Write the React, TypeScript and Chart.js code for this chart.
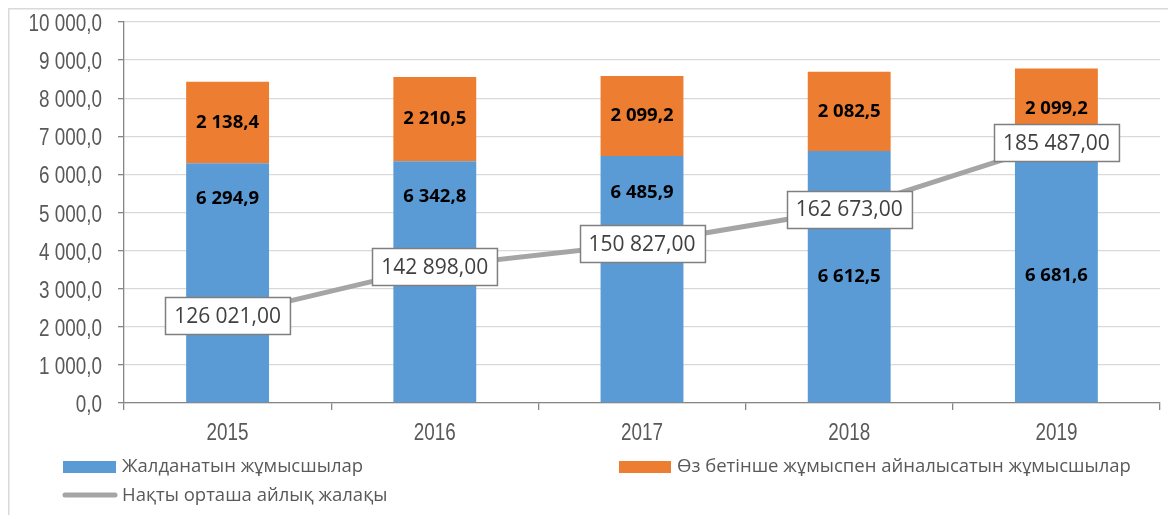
import React, { useEffect, useRef } from "react";
import { Chart, registerables } from "chart.js";

Chart.register(...registerables);

const years = ["2015", "2016", "2017", "2018", "2019"];
const hired = [6294.9, 6342.8, 6485.9, 6612.5, 6681.6];
const selfEmployed = [2138.4, 2210.5, 2099.2, 2082.5, 2099.2];
const wage = [126021, 142898, 150827, 162673, 185487];
const seriesNames = [
  "Жалданатын жұмысшылар",
  "Өз бетінше жұмыспен айналысатын жұмысшылар",
  "Нақты орташа айлық жалақы",
];
// where the hired-workers label sits inside its bar (share of bar height from the base)
const hiredLabelShare = [0.85, 0.855, 0.85, 0.5, 0.5];

const BLUE = "#5B9BD5";
const ORANGE = "#ED7D31";
const GRAY = "#A5A5A5";
const TEXT = "#595959";
const AXISFONT = "'Liberation Sans', Arial, sans-serif";
const SANS = "'Open Sans', 'Noto Sans', sans-serif";
const NARROW_SCALE = 0.82;

const W = 1168;
const H = 507;

function fmt(v: number, d: number): string {
  const s = Math.abs(v).toFixed(d);
  const [ip, dp] = s.split(".");
  const grouped = ip.replace(/\B(?=(\d{3})+(?!\d))/g, " ");
  return (v < 0 ? "-" : "") + grouped + (dp ? "," + dp : "");
}

const framePlugin = {
  id: "frame",
  beforeDraw(chart: any) {
    const ctx = chart.ctx;
    ctx.save();
    ctx.fillStyle = "#ffffff";
    ctx.fillRect(0, 0, chart.width, chart.height);
    ctx.strokeStyle = "#d9d9d9";
    ctx.lineWidth = 1.5;
    ctx.beginPath();
    ctx.moveTo(0.75, chart.height);
    ctx.lineTo(0.75, 0.75);
    ctx.lineTo(chart.width, 0.75);
    ctx.stroke();
    ctx.restore();
  },
};

// narrow axis tick labels (Arial Narrow look)
const axisLabelsPlugin = {
  id: "narrowTicks",
  afterDraw(chart: any) {
    const ctx = chart.ctx;
    ctx.save();
    ctx.fillStyle = TEXT;
    ctx.font = `23px ${AXISFONT}`;
    ctx.textBaseline = "alphabetic";
    const ys = chart.scales.y;
    ctx.textAlign = "right";
    ys.ticks.forEach((t: any, i: number) => {
      const py = ys.getPixelForTick(i);
      ctx.save();
      ctx.translate(ys.right - 22, py + 9);
      ctx.scale(NARROW_SCALE, 1);
      ctx.fillText(fmt(Number(t.value), 1), 0, 0);
      ctx.restore();
    });
    const xs = chart.scales.x;
    ctx.textAlign = "center";
    xs.ticks.forEach((t: any, i: number) => {
      const px = xs.getPixelForTick(i);
      ctx.save();
      ctx.translate(px, xs.top + 37);
      ctx.scale(NARROW_SCALE, 1);
      ctx.fillText(String(years[i]), 0, 0);
      ctx.restore();
    });
    ctx.restore();
  },
};

const labelsPlugin = {
  id: "valueLabels",
  afterDatasetsDraw(chart: any) {
    const ctx = chart.ctx;
    ctx.save();
    ctx.textAlign = "center";
    ctx.textBaseline = "middle";
    ctx.fillStyle = "#000000";
    ctx.font = `bold 18.5px ${SANS}`;
    const m0 = chart.getDatasetMeta(0);
    m0.data.forEach((el: any, i: number) => {
      const y = el.base - (el.base - el.y) * hiredLabelShare[i];
      ctx.fillText(fmt(hired[i], 1), el.x, y);
    });
    const m1 = chart.getDatasetMeta(1);
    m1.data.forEach((el: any, i: number) => {
      ctx.fillText(fmt(selfEmployed[i], 1), el.x, (el.y + el.base) / 2);
    });
    // line labels
    const m2 = chart.getDatasetMeta(2);
    ctx.font = `21px ${SANS}`;
    m2.data.forEach((pt: any, i: number) => {
      const txt = fmt(wage[i], 2);
      const tw = ctx.measureText(txt).width;
      const bw = tw + 18;
      const bh = 37;
      const x0 = Math.round(pt.x - bw / 2) + 0.5;
      const y0 = Math.round(pt.y - bh / 2) + 0.5;
      ctx.fillStyle = "#ffffff";
      ctx.fillRect(x0, y0, bw, bh);
      ctx.strokeStyle = "#7f7f7f";
      ctx.lineWidth = 1.5;
      ctx.strokeRect(x0, y0, bw, bh);
      ctx.fillStyle = "#404040";
      ctx.fillText(txt, pt.x, pt.y + 1);
    });
    ctx.restore();
  },
};

const legendPlugin = {
  id: "customLegend",
  afterDraw(chart: any) {
    const ctx = chart.ctx;
    ctx.save();
    ctx.font = `18.5px ${SANS}`;
    ctx.textBaseline = "middle";
    ctx.textAlign = "left";
    // row 1
    ctx.fillStyle = BLUE;
    ctx.fillRect(55, 453, 53, 12);
    ctx.fillStyle = TEXT;
    ctx.fillText(seriesNames[0], 114, 459);
    ctx.fillStyle = ORANGE;
    ctx.fillRect(611, 453, 52, 12);
    ctx.fillStyle = TEXT;
    ctx.fillText(seriesNames[1], 669, 459);
    // row 2
    ctx.strokeStyle = GRAY;
    ctx.lineWidth = 5;
    ctx.lineCap = "round";
    ctx.beginPath();
    ctx.moveTo(57, 487);
    ctx.lineTo(107, 487);
    ctx.stroke();
    ctx.fillStyle = TEXT;
    ctx.fillText(seriesNames[2], 114, 488);
    ctx.restore();
  },
};

export default function App() {
  const ref = useRef<HTMLCanvasElement | null>(null);
  useEffect(() => {
    if (!ref.current) return;
    const chart = new Chart(ref.current, {
      type: "bar",
      data: {
        labels: years,
        datasets: [
          {
            type: "bar",
            label: seriesNames[0],
            data: hired,
            backgroundColor: BLUE,
            stack: "s",
            yAxisID: "y",
            order: 2,
            categoryPercentage: 1,
            barPercentage: 0.4,
          },
          {
            type: "bar",
            label: seriesNames[1],
            data: selfEmployed,
            backgroundColor: ORANGE,
            stack: "s",
            yAxisID: "y",
            order: 2,
            categoryPercentage: 1,
            barPercentage: 0.4,
          },
          {
            type: "line",
            label: seriesNames[2],
            data: wage,
            borderColor: GRAY,
            backgroundColor: GRAY,
            borderWidth: 5,
            pointRadius: 0,
            tension: 0,
            yAxisID: "y1",
            order: 1,
          } as any,
        ],
      },
      options: {
        responsive: false,
        animation: false,
        devicePixelRatio: 1,
        layout: { padding: { left: 0, top: 14, right: 16, bottom: 67 } },
        plugins: {
          legend: { display: false },
          tooltip: { enabled: false },
        },
        scales: {
          x: {
            stacked: true,
            offset: true,
            afterFit: (s: any) => {
              s.height = 45;
              s.paddingLeft = 0;
              s.paddingRight = 0;
            },
            grid: {
              offset: true,
              drawOnChartArea: false,
              drawTicks: true,
              tickLength: 7,
              color: "#868686",
              lineWidth: 1.3,
            },
            border: { display: true, color: "#868686", width: 1.3 },
            ticks: {
              color: "rgba(0,0,0,0)",
              font: { family: AXISFONT, size: 1 },
              padding: 0,
            },
          },
          y: {
            stacked: true,
            min: 0,
            max: 10000,
            afterFit: (s: any) => {
              s.width = 116;
              s.paddingTop = 0;
              s.paddingBottom = 0;
            },
            grid: {
              color: "#d9d9d9",
              lineWidth: 1.3,
              tickColor: "#868686",
              tickLength: 6,
            },
            border: { display: true, color: "#868686", width: 1.3 },
            ticks: {
              stepSize: 1000,
              color: "rgba(0,0,0,0)",
              font: { family: AXISFONT, size: 1 },
              padding: 15,
              callback: (v: any) => fmt(Number(v), 1),
            },
          },
          y1: {
            display: false,
            min: 96000,
            max: 227000,
          },
        },
      },
      plugins: [framePlugin, axisLabelsPlugin, labelsPlugin, legendPlugin],
    });
    return () => chart.destroy();
  }, []);
  return (
    <div style={{ width: W, height: H }}>
      <canvas ref={ref} width={W} height={H} style={{ display: "block" }} />
    </div>
  );
}
